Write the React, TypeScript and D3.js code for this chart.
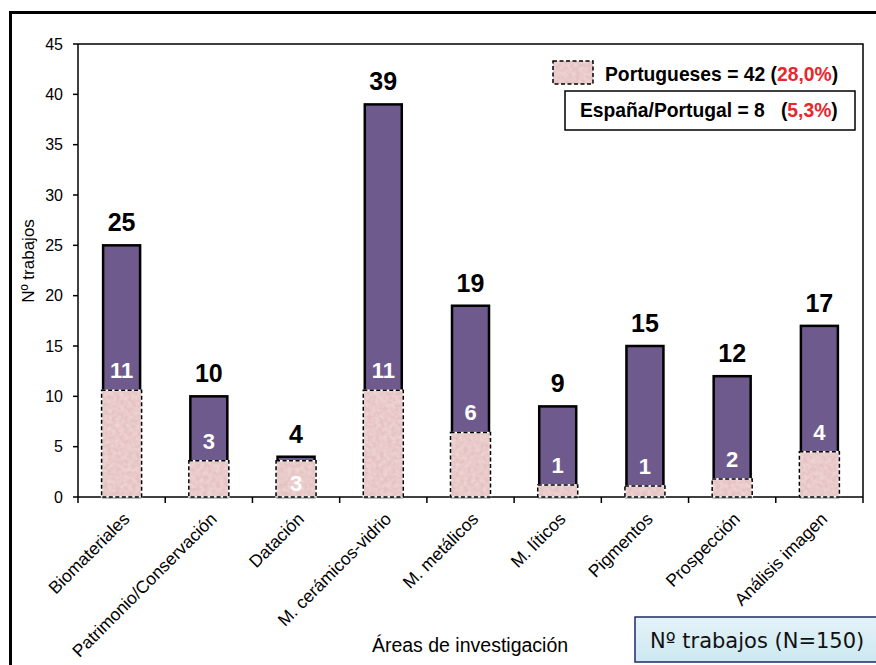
import React from "react";
import * as d3 from "d3";

const categories = [
  "Biomateriales",
  "Patrimonio/Conservación",
  "Datación",
  "M. cerámicos-vidrio",
  "M. metálicos",
  "M. líticos",
  "Pigmentos",
  "Prospección",
  "Análisis imagen",
];
const totals = [25, 10, 4, 39, 19, 9, 15, 12, 17];
const portugueses = [11, 3, 3, 11, 6, 1, 1, 2, 4];
// heights of the pink overlays as drawn in the picture
const portuguesesDrawn = [10.6, 3.6, 3.6, 10.6, 6.4, 1.2, 1.1, 1.8, 4.5];
const yTicks = [0, 5, 10, 15, 20, 25, 30, 35, 40, 45];

const W = 876;
const H = 665;
const plot = { left: 78, right: 863, top: 44, bottom: 497 };
const font = "'Liberation Sans', Arial, sans-serif";

export default function App() {
  const x = d3.scaleBand<string>().domain(categories).range([plot.left, plot.right]).padding(0);
  const y = d3.scaleLinear().domain([0, 45]).range([plot.bottom, plot.top]);
  const bw = x.bandwidth();
  const barW = 37;
  const pinkW = 40;
  const boundaries = d3.range(categories.length + 1).map((i) => plot.left + i * bw);

  return (
    <svg
      width={W}
      height={H}
      style={{ position: "absolute", left: 0, top: 0, background: "#fff" }}
      fontFamily={font}
    >
      <defs>
        <filter id="mottle" x="0" y="0" width="100%" height="100%">
          <feTurbulence type="fractalNoise" baseFrequency="0.25" numOctaves="2" seed="3" result="n" />
          <feColorMatrix
            in="n"
            type="matrix"
            values="0 0 0 0 0.93  0 0 0 0 0.80  0 0 0 0 0.80  0 0 0 0.9 -0.25"
            result="c"
          />
          <feComposite in="c" in2="SourceGraphic" operator="in" result="t" />
          <feMerge>
            <feMergeNode in="SourceGraphic" />
            <feMergeNode in="t" />
          </feMerge>
        </filter>
        <linearGradient id="blueBox" x1="0" y1="0" x2="0" y2="1">
          <stop offset="0" stopColor="#e4f3f8" />
          <stop offset="1" stopColor="#cde8f1" />
        </linearGradient>
      </defs>
      <rect x={0} y={0} width={W} height={H} fill="#fff" />
      {/* outer frame */}
      <path d={`M10.5,${H} V12.5 H${W + 5}`} fill="none" stroke="#000" strokeWidth={3} />

      {/* plot area box top & right */}
      <path
        d={`M${plot.left},${plot.top} H${plot.right} V${plot.bottom}`}
        fill="none"
        stroke="#000"
        strokeWidth={1.5}
      />
      {/* y axis */}
      <line x1={plot.left} x2={plot.left} y1={plot.top} y2={plot.bottom} stroke="#000" strokeWidth={1.5} />
      {yTicks.map((t) => (
        <g key={t}>
          <line x1={plot.left - 5} x2={plot.left} y1={y(t)} y2={y(t)} stroke="#000" strokeWidth={1.5} />
          <text x={plot.left - 15} y={y(t)} dy="0.35em" textAnchor="end" fontSize={16} fill="#000">
            {t}
          </text>
        </g>
      ))}
      <text
        transform={`translate(34, 261) rotate(-90)`}
        textAnchor="middle"
        fontSize={17}
        fill="#000"
      >
        Nº trabajos
      </text>

      {/* x axis */}
      <line x1={plot.left} x2={plot.right} y1={plot.bottom} y2={plot.bottom} stroke="#000" strokeWidth={1.5} />
      {boundaries.map((b, i) => (
        <line key={i} x1={b} x2={b} y1={plot.bottom} y2={plot.bottom + 6} stroke="#000" strokeWidth={1.5} />
      ))}
      {categories.map((c) => {
        const cx = (x(c) as number) + bw / 2;
        return (
          <text
            key={c}
            transform={`translate(${cx + 9}, ${plot.bottom + 23}) rotate(-45)`}
            textAnchor="end"
            fontSize={17.5}
            fill="#000"
          >
            {c}
          </text>
        );
      })}
      <text x={470} y={652} textAnchor="middle" fontSize={19.5} fill="#000">
        Áreas de investigación
      </text>

      {/* bars */}
      {categories.map((c, i) => {
        const cx = (x(c) as number) + bw / 2;
        const top = y(totals[i]);
        const pTop = y(portuguesesDrawn[i]);
        let labelY = pTop - 20;
        if (labelY - 10 < top) labelY = pTop + 22;
        return (
          <g key={c}>
            <rect
              x={cx - barW / 2}
              y={top}
              width={barW}
              height={plot.bottom - top}
              fill="#6e5a8d"
              stroke="#000"
              strokeWidth={2.5}
            />
            <rect
              x={cx - pinkW / 2}
              y={pTop}
              width={pinkW}
              height={plot.bottom - pTop}
              fill="#e6c2c2"
              filter="url(#mottle)"
            />
            <rect
              x={cx - pinkW / 2}
              y={pTop}
              width={pinkW}
              height={plot.bottom - pTop}
              fill="none"
              stroke="#fff"
              strokeWidth={1.5}
            />
            <rect
              x={cx - pinkW / 2}
              y={pTop}
              width={pinkW}
              height={plot.bottom - pTop}
              fill="none"
              stroke="#000"
              strokeWidth={1.5}
              strokeDasharray="4 2.5"
            />
            <text x={cx} y={top - 14} textAnchor="middle" fontSize={25} fontWeight="bold" fill="#000">
              {totals[i]}
            </text>
            <text
              x={cx}
              y={labelY}
              dy="0.36em"
              textAnchor="middle"
              fontSize={22}
              fontWeight="bold"
              fill="#fff"
            >
              {portugueses[i]}
            </text>
          </g>
        );
      })}

      {/* legend */}
      <rect x={553} y={61} width={40} height={23} fill="#e6c2c2" filter="url(#mottle)" />
      <rect x={553} y={61} width={40} height={23} fill="none" stroke="#000" strokeWidth={1.5} strokeDasharray="4 2.5" />
      <text x={605} y={81} fontSize={19.3} fontWeight="bold" fill="#000">
        Portugueses = 42 (<tspan fill="#e8262b">28,0%</tspan>)
      </text>
      <rect x={565} y={91} width={290} height={39} fill="#fff" stroke="#000" strokeWidth={1.5} />
      <text x={580} y={117} fontSize={19.3} fontWeight="bold" fill="#000" xmlSpace="preserve">
        España/Portugal = 8   (<tspan fill="#e8262b">5,3%</tspan>)
      </text>

      {/* N box */}
      <rect x={635} y={617} width={260} height={45} fill="url(#blueBox)" stroke="#1d2a6a" strokeWidth={1.5} />
      <text x={650} y={648} fontSize={21} fill="#111" fontFamily="'DejaVu Sans', Verdana, sans-serif">
        Nº trabajos (N=150)
      </text>
    </svg>
  );
}
